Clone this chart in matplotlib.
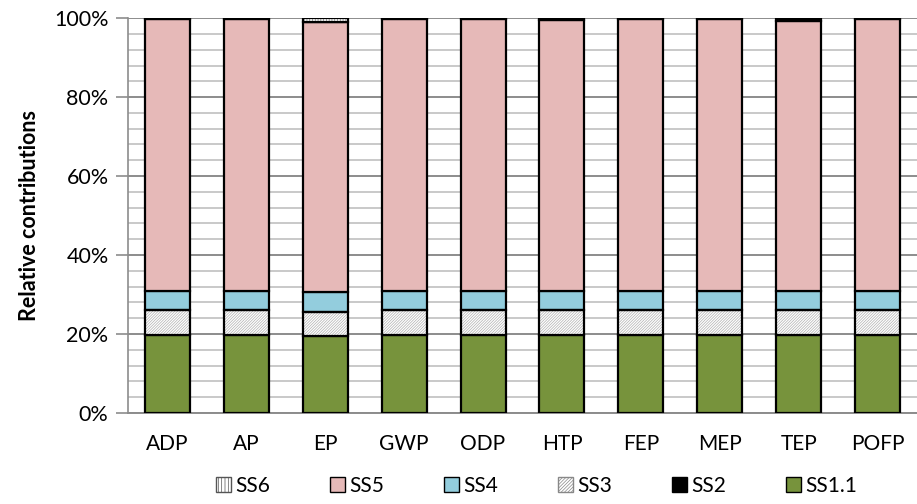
import matplotlib.pyplot as plt
from matplotlib.patches import Patch
import numpy as np

plt.rcParams['font.family'] = ['Lato', 'DejaVu Sans']
plt.rcParams['hatch.linewidth'] = 0.5

# Datos (porcentajes)
categorias = ['ADP', 'AP', 'EP', 'GWP', 'ODP', 'HTP', 'FEP', 'MEP', 'TEP', 'POFP']
ss11 = [19.7, 19.7, 19.6, 19.7, 19.7, 19.7, 19.7, 19.7, 19.7, 19.7]
ss3 = [6.3, 6.3, 6.0, 6.3, 6.3, 6.3, 6.3, 6.3, 6.3, 6.3]
ss4 = [5.0, 5.0, 5.0, 5.0, 5.0, 5.0, 5.0, 5.0, 5.0, 5.0]
ss2 = [0.1, 0.1, 0.1, 0.1, 0.1, 0.5, 0.2, 0.2, 0.6, 0.2]
ss6 = [0.0, 0.0, 1.0, 0.0, 0.0, 0.0, 0.0, 0.0, 0.0, 0.0]
ss5 = [100 - a - b - c - d - e for a, b, c, d, e in zip(ss11, ss3, ss4, ss2, ss6)]

verde = '#77933C'
rosa = '#E6B9B8'
azul = '#93CDDD'

fig = plt.figure(figsize=(9.17, 5.04), dpi=100)
ax = fig.add_axes([0.1396, 0.1806, 0.8604, 0.7834])

x = np.arange(len(categorias))
w = 0.57
bottom = np.zeros(len(categorias))

def barra(vals, color, hatch=None, hcolor='#B0B0B0'):
    global bottom
    if hatch:
        ax.bar(x, vals, w, bottom=bottom, color='white', edgecolor=hcolor,
               hatch=hatch, linewidth=0, zorder=3)
        ax.bar(x, vals, w, bottom=bottom, fill=False, edgecolor='black',
               linewidth=1.6, zorder=4)
    else:
        ax.bar(x, vals, w, bottom=bottom, color=color, edgecolor='black',
               linewidth=1.6, zorder=3)
    bottom = bottom + np.array(vals)

barra(ss11, verde)
barra(ss3, None, hatch='////////////')
barra(ss4, azul)
barra(ss5, rosa)
barra(ss2, 'black')
barra(ss6, None, hatch='||||||', hcolor='#808080')

ax.set_xlim(-0.5, len(categorias) - 0.5)
ax.set_ylim(0, 100)
ax.set_yticks(np.arange(0, 101, 20))
ax.set_yticklabels([f'{v}%' for v in range(0, 101, 20)])
ax.set_yticks(np.arange(0, 101, 4), minor=True)
ax.grid(axis='y', which='minor', color='#C0C0C0', linewidth=1.2, zorder=0)
ax.grid(axis='y', which='major', color='#8C8C8C', linewidth=1.4, zorder=0)
ax.set_xticks(x)
ax.set_xticklabels(categorias)
ax.tick_params(axis='x', length=0, labelsize=15, pad=15)
ax.tick_params(axis='y', which='major', length=9, width=1.2, color='#8C8C8C',
               labelsize=15.5, pad=5)
ax.tick_params(axis='y', which='minor', length=0)

for s in ['top', 'right']:
    ax.spines[s].set_visible(False)
ax.spines['left'].set_color('#8C8C8C')
ax.spines['left'].set_linewidth(1.2)
ax.spines['bottom'].set_color('#8C8C8C')
ax.spines['bottom'].set_linewidth(1.4)

ax.set_ylabel('Relative contributions', fontsize=15.5, fontweight='bold', labelpad=10)

handles = [
    Patch(facecolor='white', edgecolor='#555555', hatch='|||||', label='SS6'),
    Patch(facecolor=rosa, edgecolor='black', label='SS5'),
    Patch(facecolor=azul, edgecolor='black', label='SS4'),
    Patch(facecolor='white', edgecolor='#888888', hatch='//////////', label='SS3'),
    Patch(facecolor='black', edgecolor='black', label='SS2'),
    Patch(facecolor=verde, edgecolor='black', label='SS1.1'),
]
fig.legend(handles=handles, loc='center', bbox_to_anchor=(0.585, 0.036), ncol=6,
           frameon=False, fontsize=15, handlelength=0.7, handleheight=0.7,
           handletextpad=0.2, columnspacing=2.9)

plt.savefig('out.png', dpi=100)
